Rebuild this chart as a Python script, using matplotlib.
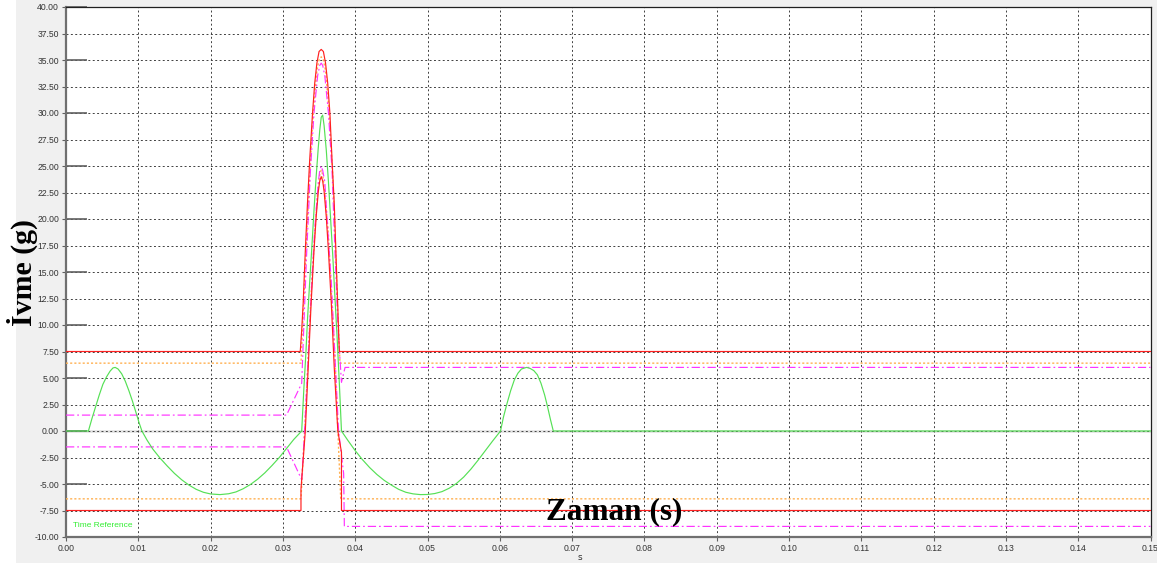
import matplotlib.pyplot as plt
from matplotlib.patches import Rectangle
from matplotlib.ticker import MultipleLocator, FormatStrFormatter

# time reference (green), s / g
ref_t = [0.0, 0.0031, 0.0036, 0.0041, 0.0046, 0.0051, 0.0056, 0.0061, 0.0065, 0.0068,
         0.0072, 0.0077, 0.0082, 0.0087, 0.0092, 0.0097, 0.0101, 0.0105,
         0.0112, 0.0120, 0.0130, 0.0140, 0.0150, 0.0160, 0.0170, 0.0180, 0.0190, 0.0200,
         0.0213, 0.0225, 0.0235, 0.0245, 0.0255, 0.0265, 0.0275, 0.0285, 0.0295, 0.0305,
         0.0315, 0.0326,
         0.0329, 0.0332, 0.0334, 0.0337, 0.0340, 0.0343, 0.0346, 0.0349, 0.0351, 0.0353,
         0.0355, 0.0357, 0.0360, 0.0363, 0.0366, 0.0369, 0.0372, 0.0375, 0.0378, 0.0381,
         0.0390, 0.0400, 0.0410, 0.0420, 0.0430, 0.0440, 0.0450, 0.0460, 0.0470, 0.0480,
         0.0490, 0.0500, 0.0510, 0.0520, 0.0530, 0.0540, 0.0550, 0.0560, 0.0570, 0.0580,
         0.0590, 0.0601,
         0.0605, 0.0610, 0.0615, 0.0620, 0.0625, 0.0630, 0.0637, 0.0642, 0.0647, 0.0652,
         0.0657, 0.0662, 0.0666, 0.0670, 0.0674, 0.15]
ref_g = [0.0, 0.0, 1.2, 2.3, 3.4, 4.4, 5.1, 5.65, 5.95, 6.0,
         5.85, 5.4, 4.7, 3.8, 2.8, 1.7, 0.8, 0.0,
         -0.85, -1.7, -2.55, -3.3, -4.0, -4.6, -5.1, -5.5, -5.78, -5.94,
         -6.0, -5.92, -5.75, -5.45, -5.05, -4.55, -3.95, -3.25, -2.5, -1.65,
         -0.8, 0.0,
         4.0, 7.6, 10.5, 14.0, 17.3, 20.8, 24.0, 26.8, 28.4, 29.6,
         29.8, 28.8, 26.5, 23.5, 20.0, 16.5, 12.6, 8.8, 4.6, 0.0,
         -0.9, -1.85, -2.7, -3.45, -4.1, -4.65, -5.1, -5.5, -5.78, -5.93,
         -6.0, -5.99, -5.9, -5.72, -5.4, -4.95, -4.35, -3.6, -2.75, -1.85,
         -0.95, 0.0,
         1.3, 2.6, 3.8, 4.8, 5.45, 5.85, 6.0, 5.9, 5.7, 5.3,
         4.5, 3.4, 2.3, 1.1, 0.0, 0.0]

# red limits
red_up_t = [0.0, 0.0324, 0.0326, 0.0328, 0.0331, 0.0334, 0.0337, 0.0341, 0.0344, 0.0347, 0.0350, 0.0353,
            0.0356, 0.0359, 0.0362, 0.0365, 0.0368, 0.0371, 0.0374, 0.0376, 0.0378, 0.15]
red_up_g = [7.5, 7.5, 9.5, 12.0, 17.0, 21.5, 25.5, 30.0, 32.8, 34.7, 35.8, 36.0,
            35.8, 34.7, 32.8, 30.0, 25.5, 21.5, 15.5, 11.5, 7.5, 7.5]
red_lo_t = [0.0, 0.0325, 0.0325, 0.0331, 0.0335, 0.0339, 0.0343, 0.0346, 0.0349, 0.0351, 0.0353,
            0.0355, 0.0357, 0.0360, 0.0363, 0.0367, 0.0371, 0.0376, 0.0381, 0.0381, 0.15]
red_lo_g = [-7.5, -7.5, -5.5, 0.0, 6.0, 12.0, 17.0, 20.2, 22.6, 23.6, 24.0,
            23.6, 22.6, 20.2, 17.0, 12.0, 6.0, 0.0, -2.0, -7.5, -7.5]

# orange limits
org_up_t = [0.0, 0.0325, 0.0328, 0.0332, 0.0337, 0.0342, 0.0347, 0.0350, 0.0353, 0.0356, 0.0359,
            0.0364, 0.0369, 0.0373, 0.0376, 0.0379, 0.15]
org_up_g = [6.4, 6.4, 11.0, 17.0, 24.0, 30.0, 34.0, 35.0, 35.3, 35.0, 34.0,
            30.0, 24.0, 17.0, 11.0, 6.4, 6.4]
org_lo_t = [0.0, 0.0325, 0.0330, 0.0335, 0.0339, 0.0344, 0.0348, 0.0351, 0.0353, 0.0355, 0.0358,
            0.0363, 0.0367, 0.0372, 0.0376, 0.0380, 0.15]
org_lo_g = [-6.4, -6.4, 0.0, 7.0, 13.0, 18.5, 22.5, 24.2, 24.6, 24.2, 22.5,
            18.5, 13.0, 7.0, 0.0, -6.4, -6.4]

# magenta limits
mag_up_t = [0.0, 0.0305, 0.0326, 0.0329, 0.0333, 0.0338, 0.0343, 0.0348, 0.0351, 0.0353, 0.0355,
            0.0358, 0.0363, 0.0368, 0.0372, 0.0376, 0.0381, 0.0386, 0.15]
mag_up_g = [1.5, 1.5, 4.5, 10.0, 17.0, 24.5, 30.0, 33.5, 34.5, 34.7, 34.5,
            33.5, 30.0, 24.5, 17.0, 10.0, 4.6, 6.0, 6.0]
mag_lo_t = [0.0, 0.0305, 0.0326, 0.0330, 0.0335, 0.0340, 0.0344, 0.0349, 0.0351, 0.0353, 0.0355,
            0.0358, 0.0362, 0.0367, 0.0372, 0.0377, 0.0384, 0.0385, 0.15]
mag_lo_g = [-1.5, -1.5, -4.6, 0.0, 7.0, 14.0, 19.0, 23.5, 24.6, 25.0, 24.6,
            23.5, 19.0, 14.0, 7.0, 0.0, -4.0, -9.0, -9.0]

x_ticks = [i / 100 for i in range(16)]

fig = plt.figure(figsize=(11.57, 5.63), dpi=100, facecolor='#f0f0f0')
fig.patches.append(Rectangle((0, 0), 16 / 1157, 1, transform=fig.transFigure,
                             facecolor='white', edgecolor='none', zorder=0))
ax = fig.add_axes([66 / 1157, 26 / 563, 1084.5 / 1157, 530 / 563])
ax.set_facecolor('white')

ax.set_xlim(0, 0.15)
ax.set_ylim(-10, 40)
ax.set_xticks(x_ticks)
ax.xaxis.set_major_formatter(FormatStrFormatter('%.2f'))
ax.yaxis.set_major_locator(MultipleLocator(2.5))
ax.yaxis.set_major_formatter(FormatStrFormatter('%.2f'))
ax.yaxis.set_minor_locator(MultipleLocator(5))
ax.yaxis.remove_overlapping_locs = False
ax.tick_params(axis='both', which='major', labelsize=6.2, labelcolor='#333333',
               color='#606060', length=3, width=0.8, pad=2)
ax.tick_params(axis='y', which='minor', direction='in', length=15, width=1.2, color='#606060')
for lab in ax.get_xticklabels() + ax.get_yticklabels():
    lab.set_family('Liberation Sans')

ax.grid(True, which='major', color='#404040', linestyle=(0, (2, 2.5)), linewidth=0.7)
ax.axhline(0, color='#e4e4e4', lw=2, zorder=1)

for side in ['left', 'bottom']:
    ax.spines[side].set_color('#707070')
    ax.spines[side].set_linewidth(1.6)
for side in ['top', 'right']:
    ax.spines[side].set_color('#202020')
    ax.spines[side].set_linewidth(0.9)

lw = 0.85
ax.plot(org_up_t, org_up_g, color='#ffb050', lw=1.0, linestyle=(0, (1.5, 1.5)), zorder=3)
ax.plot(org_lo_t, org_lo_g, color='#ffb050', lw=1.0, linestyle=(0, (1.5, 1.5)), zorder=3)
ax.plot(mag_up_t, mag_up_g, color='#ff33ff', lw=lw, linestyle=(0, (7, 2.5, 1.5, 2.5)), zorder=4)
ax.plot(mag_lo_t, mag_lo_g, color='#ff33ff', lw=lw, linestyle=(0, (7, 2.5, 1.5, 2.5)), zorder=4)
ax.plot(red_up_t, red_up_g, color='#ff2020', lw=lw, zorder=5)
ax.plot(red_lo_t, red_lo_g, color='#ff2020', lw=lw, zorder=5)
ax.plot(ref_t, ref_g, color='#55e055', lw=lw, zorder=6)

ax.text(0.0009, -9.1, 'Time Reference', color='#33ee33', fontsize=6,
        family='Liberation Sans', zorder=7)
ax.text(0.0758, -7.6, 'Zaman (s)', fontsize=22.5, fontweight='bold', family='Liberation Serif',
        ha='center', va='center', zorder=8)

fig.text(580 / 1157, 1 - 557 / 563, 's', fontsize=6.5, color='#333333', ha='center', va='center')
fig.text(22 / 1157, 1 - 272 / 563, 'İvme (g)', fontsize=21.5, fontweight='bold',
         family='Liberation Serif', rotation=90, ha='center', va='center')

fig.savefig('out.png', dpi=100, facecolor=fig.get_facecolor())
